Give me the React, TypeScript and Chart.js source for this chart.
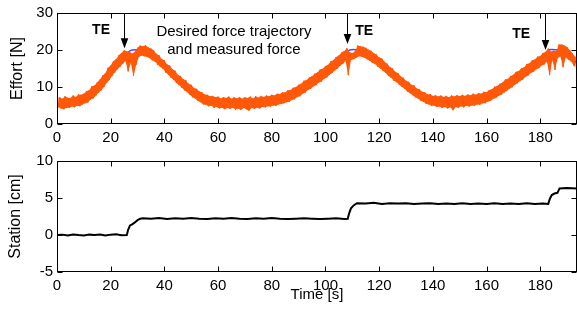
import React, { useEffect, useRef } from "react";
import { Chart, registerables } from "chart.js";

Chart.register(...registerables);

// ---------------- data ----------------
const timeMax = 193.7;
const timeTicks = [0, 20, 40, 60, 80, 100, 120, 140, 160, 180];
const effortTicks = [0, 10, 20, 30];
const stationTicks = [-5, 0, 5, 10];

// measured force, sampled every 0.5 s starting at 0 s
const measuredStart = 0;
const measuredStep = 0.5;
const measuredForce = [
  6.9, 4.5, 7.2, 4.2, 6.8, 4.0, 7.5, 4.4, 7.1, 4.3, 7.0, 4.7, 7.7, 4.5, 7.3, 4.9, 8.0, 4.8, 7.9, 5.3,
  8.2, 5.6, 8.9, 5.8, 9.1, 6.6, 10.2, 6.9, 10.4, 7.7, 11.3, 8.5, 12.0, 9.1, 13.1, 10.0, 13.7, 11.1, 15.2, 11.9,
  15.8, 13.0, 17.0, 13.9, 17.5, 14.8, 18.6, 15.5, 19.2, 16.3, 19.9, 17.0, 19.6, 14.2, 19.6, 16.5, 19.0, 13.0, 19.5, 16.0,
  20.6, 18.2, 21.2, 18.5, 21.0, 18.3, 21.3, 18.1, 20.7, 17.8, 20.4, 17.2, 19.9, 16.9, 19.0, 16.0, 18.6, 15.4, 17.6, 14.9,
  17.2, 13.9, 16.1, 13.3, 15.8, 12.5, 14.8, 11.9, 14.4, 11.1, 13.3, 10.5, 13.0, 9.8, 12.1, 9.1, 11.8, 8.6, 10.9, 7.9,
  10.6, 7.2, 9.7, 6.9, 9.5, 6.2, 8.8, 5.9, 8.6, 5.3, 8.0, 5.2, 7.9, 4.8, 7.5, 4.9, 7.6, 4.4, 7.2, 4.6,
  7.4, 4.2, 6.9, 4.4, 7.3, 4.0, 7.0, 4.3, 7.4, 4.1, 6.8, 4.4, 7.2, 3.9, 6.9, 4.2, 7.3, 3.8, 6.8, 4.3,
  7.2, 4.0, 7.0, 3.6, 7.4, 4.3, 6.9, 4.1, 7.5, 4.4, 7.1, 4.2, 7.6, 4.6, 7.3, 4.5, 7.7, 4.8, 7.5, 4.7,
  7.9, 5.0, 7.7, 4.9, 8.2, 5.3, 8.1, 5.4, 8.6, 5.6, 8.5, 5.9, 9.1, 6.0, 9.2, 6.5, 9.8, 6.7, 10.0, 7.3,
  10.6, 7.5, 10.9, 8.2, 11.7, 8.5, 11.9, 9.2, 12.6, 9.5, 12.9, 10.2, 13.6, 10.5, 13.9, 11.2, 14.7, 11.5, 14.9, 12.2,
  15.7, 12.6, 16.0, 13.3, 16.9, 13.8, 17.3, 14.5, 18.1, 15.0, 18.5, 15.8, 19.3, 16.3, 19.7, 17.0, 20.5, 13.2, 19.4, 17.3,
  19.2, 17.5, 19.6, 17.9, 21.2, 18.3, 21.0, 18.2, 20.9, 17.9, 20.6, 17.5, 20.1, 17.1, 19.8, 16.5, 19.1, 16.2, 18.8, 15.5,
  18.0, 15.0, 17.7, 14.3, 16.8, 13.8, 16.3, 13.0, 15.4, 12.5, 15.0, 11.7, 14.1, 11.3, 13.8, 10.6, 12.9, 10.0, 12.5, 9.5,
  11.7, 8.8, 11.4, 8.3, 10.6, 7.8, 10.4, 7.2, 9.6, 6.9, 9.4, 6.3, 8.7, 6.0, 8.6, 5.5, 8.0, 5.3, 8.1, 4.9,
  7.6, 4.9, 7.8, 4.6, 7.4, 4.7, 7.7, 4.3, 7.3, 4.6, 7.6, 4.2, 7.2, 4.5, 7.7, 3.7, 7.4, 4.6, 7.8, 4.4,
  7.5, 4.8, 7.9, 4.5, 7.6, 4.9, 8.0, 4.7, 7.7, 5.0, 8.2, 4.9, 7.9, 5.3, 8.4, 5.2, 8.2, 5.6, 8.7, 5.6,
  8.6, 6.1, 9.2, 6.2, 9.4, 6.8, 10.1, 7.0, 10.3, 7.6, 10.9, 7.9, 11.2, 8.5, 12.0, 8.9, 12.2, 9.5, 13.0, 9.9,
  13.3, 10.6, 14.1, 11.0, 14.3, 11.6, 15.1, 12.0, 15.3, 12.7, 16.2, 13.1, 16.4, 13.8, 17.2, 14.1, 17.4, 14.8, 18.2, 15.1,
  18.4, 15.8, 19.2, 16.1, 19.5, 16.8, 20.4, 13.2, 19.6, 17.2, 19.8, 14.6, 19.7, 17.8, 21.5, 18.3, 21.5, 15.3, 21.2, 18.0,
  20.8, 17.4, 20.0, 16.9, 19.1, 15.8, 18.2, 15.0,
];

// desired force trajectory
const desiredTime = [
  0, 5, 10, 15, 20, 25, 27, 28, 31, 33, 35, 40, 45, 50, 55, 60, 65, 70, 75, 80, 85, 90, 95, 100, 105, 108,
  109, 112, 114, 115, 120, 125, 130, 135, 140, 145, 150, 155, 160, 165, 170, 175, 180, 182, 183, 187, 188,
  190, 193.7,
];
const desiredForce = [
  5.5, 5.8, 6.9, 9.6, 14.4, 18.4, 19.7, 20, 20, 19.6, 18.8, 15.5, 12, 9, 6.7, 5.8, 5.6, 5.6, 5.8, 6.3, 7.2, 9,
  11.5, 14, 17, 19.2, 20, 20, 19.4, 19, 16.6, 13.3, 10.3, 7.8, 6.3, 6, 6.2, 6.5, 7.3, 9.3, 11.9, 14.5, 17,
  18.3, 20, 20, 19.9, 19.1, 16.3,
];

// station
const stationTime = [
  0, 2, 4, 6, 8, 10, 12, 14, 16, 18, 20, 22, 24, 26, 26.5, 27.2, 28, 29, 30, 31, 32, 35, 38, 41, 44, 47, 50,
  53, 56, 59, 62, 65, 68, 71, 74, 77, 80, 83, 86, 89, 92, 95, 98, 101, 104, 107, 108.3, 108.8, 109.5, 110.5,
  111.7, 115, 118, 121, 124, 127, 130, 133, 136, 139, 142, 145, 148, 151, 154, 157, 160, 163, 166, 169, 172,
  175, 178, 181, 183, 183.6, 184.3, 185.3, 186.4, 187.2, 190, 193.7,
];
const stationValue = [
  0, 0.05, -0.05, 0.08, 0, -0.06, 0.05, 0, 0.08, -0.05, 0.05, 0.1, -0.03, 0, 0.7, 1.3, 1.45, 1.7, 2.0, 2.2,
  2.25, 2.2, 2.3, 2.15, 2.25, 2.2, 2.3, 2.2, 2.15, 2.25, 2.2, 2.3, 2.2, 2.15, 2.25, 2.2, 2.3, 2.2, 2.15, 2.2,
  2.25, 2.2, 2.15, 2.2, 2.25, 2.15, 2.2, 2.9, 3.6, 4.0, 4.3, 4.25, 4.35, 4.2, 4.3, 4.25, 4.3, 4.2, 4.25, 4.3,
  4.2, 4.25, 4.2, 4.3, 4.2, 4.25, 4.2, 4.3, 4.2, 4.25, 4.2, 4.3, 4.2, 4.25, 4.2, 4.9, 5.4, 5.6, 5.7, 6.3,
  6.35, 6.3,
];

// annotations
const teTime = [25.0, 107.9, 181.8];
const teTip = [20.5, 21.6, 20.0];
const teLabelTime = [16.4, 114.4, 172.9];
const teLabelForce = [24.3, 24.05, 23.2];
const noteLines = ["Desired force trajectory", "and measured force"];
const noteTime = 65.9;
const noteForce = [23.65, 18.9];

// ---------------- styling ----------------
const FONT = "'Liberation Sans', Arial, Helvetica, sans-serif";
const ORANGE = "rgb(255, 88, 8)";
const BLUE = "rgb(70, 70, 255)";

const framePlugin = {
  id: "frame",
  afterDraw(chart: any) {
    const { ctx, chartArea: a, scales } = chart;
    ctx.save();
    ctx.strokeStyle = "#000";
    ctx.lineWidth = 1;
    const L = Math.round(a.left) + 0.5;
    const R = Math.round(a.right) - 0.5;
    const T = Math.round(a.top) + 0.5;
    const B = Math.round(a.bottom) - 0.5;
    ctx.strokeRect(L, T, R - L, B - T);
    ctx.beginPath();
    for (const t of scales.x.ticks) {
      const px = Math.round(scales.x.getPixelForValue(t.value)) + 0.5;
      ctx.moveTo(px, B);
      ctx.lineTo(px, B - 5);
      ctx.moveTo(px, T);
      ctx.lineTo(px, T + 5);
    }
    for (const t of scales.y.ticks) {
      const py = Math.round(scales.y.getPixelForValue(t.value)) + 0.5;
      ctx.moveTo(L, py);
      ctx.lineTo(L + 5, py);
      ctx.moveTo(R, py);
      ctx.lineTo(R - 5, py);
    }
    ctx.stroke();
    ctx.restore();
  },
};

const annotationPlugin = {
  id: "teNotes",
  afterDatasetsDraw(chart: any) {
    const { ctx, scales } = chart;
    const xs = scales.x;
    const ys = scales.y;
    ctx.save();
    ctx.fillStyle = "#000";
    ctx.strokeStyle = "#000";
    ctx.lineWidth = 1;
    teTime.forEach((t, i) => {
      const px = Math.round(xs.getPixelForValue(t)) + 0.5;
      const top = ys.getPixelForValue(30);
      const tip = ys.getPixelForValue(teTip[i]);
      ctx.beginPath();
      ctx.moveTo(px, top);
      ctx.lineTo(px, tip - 8);
      ctx.stroke();
      ctx.beginPath();
      ctx.moveTo(px, tip);
      ctx.lineTo(px - 3.8, tip - 10);
      ctx.lineTo(px + 3.8, tip - 10);
      ctx.closePath();
      ctx.fill();
      ctx.font = `bold 14px ${FONT}`;
      ctx.textAlign = "center";
      ctx.textBaseline = "alphabetic";
      ctx.fillText("TE", xs.getPixelForValue(teLabelTime[i]), ys.getPixelForValue(teLabelForce[i]));
    });
    ctx.font = `15px ${FONT}`;
    ctx.textAlign = "center";
    ctx.textBaseline = "alphabetic";
    noteLines.forEach((line, i) => {
      ctx.fillText(line, xs.getPixelForValue(noteTime), ys.getPixelForValue(noteForce[i]));
    });
    ctx.restore();
  },
};

function xScale(fitHeight: number, title?: any) {
  return {
    type: "linear",
    min: 0,
    max: timeMax,
    grid: { display: false, drawTicks: false },
    border: { display: false },
    ticks: { font: { size: 15, family: FONT }, color: "#000", padding: 5, maxRotation: 0, autoSkip: false },
    afterBuildTicks: (s: any) => {
      s.ticks = timeTicks.map((v) => ({ value: v }));
    },
    afterFit: (s: any) => {
      s.height = fitHeight;
    },
    title: title || { display: false },
  };
}

function yScale(min: number, max: number, ticks: number[], label: string, titlePad: number) {
  return {
    type: "linear",
    min,
    max,
    grid: { display: false, drawTicks: false },
    border: { display: false },
    ticks: { font: { size: 15, family: FONT }, color: "#000", padding: 4 },
    afterBuildTicks: (s: any) => {
      s.ticks = ticks.map((v) => ({ value: v }));
    },
    afterFit: (s: any) => {
      s.width = 57;
    },
    title: {
      display: true,
      text: label,
      color: "#000",
      font: { size: 16, family: FONT },
      padding: { top: titlePad, bottom: 0 },
    },
  };
}

export default function App() {
  const topRef = useRef<HTMLCanvasElement>(null);
  const botRef = useRef<HTMLCanvasElement>(null);

  useEffect(() => {
    const hiPts: { x: number; y: number }[] = [];
    const loPts: { x: number; y: number }[] = [];
    const measuredPts = measuredForce.map((v, i) => {
      const p = { x: measuredStart + i * measuredStep, y: v };
      (i % 2 === 0 ? hiPts : loPts).push(p);
      return p;
    });
    const desiredPts = desiredTime.map((t, i) => ({ x: t, y: desiredForce[i] }));
    const stationPts = stationTime.map((t, i) => ({ x: t, y: stationValue[i] }));

    const top = new Chart(topRef.current as HTMLCanvasElement, {
      type: "line",
      data: {
        datasets: [
          {
            label: "Measured force",
            data: measuredPts,
            borderColor: ORANGE,
            borderWidth: 1,
            pointRadius: 0,
            tension: 0,
          },
          {
            label: "band-hi",
            data: hiPts,
            borderColor: "rgba(0,0,0,0)",
            backgroundColor: ORANGE,
            pointRadius: 0,
            tension: 0,
            fill: "+1",
          },
          {
            label: "band-lo",
            data: loPts,
            borderColor: "rgba(0,0,0,0)",
            pointRadius: 0,
            tension: 0,
          },
          {
            label: "Desired force",
            data: desiredPts,
            borderColor: BLUE,
            borderWidth: 1.5,
            pointRadius: 0,
            tension: 0.3,
          },
        ],
      },
      options: {
        animation: false,
        responsive: false,
        layout: { padding: { top: 13, left: 0, right: 0, bottom: 0 } },
        plugins: { legend: { display: false }, tooltip: { enabled: false } },
        scales: {
          x: xScale(26) as any,
          y: yScale(0, 30, effortTicks, "Effort [N]", 8) as any,
        },
      },
      plugins: [framePlugin, annotationPlugin],
    });

    const bot = new Chart(botRef.current as HTMLCanvasElement, {
      type: "line",
      data: {
        datasets: [
          {
            label: "Station",
            data: stationPts,
            borderColor: "#000",
            borderWidth: 2,
            pointRadius: 0,
            tension: 0,
          },
        ],
      },
      options: {
        animation: false,
        responsive: false,
        layout: { padding: { top: 13, left: 0, right: 0, bottom: 0 } },
        plugins: { legend: { display: false }, tooltip: { enabled: false } },
        scales: {
          x: xScale(38, {
            display: true,
            text: "Time [s]",
            color: "#000",
            font: { size: 15, family: FONT },
            padding: { top: 0, bottom: 6 },
          }) as any,
          y: yScale(-5, 10, stationTicks, "Station [cm]", 6) as any,
        },
      },
      plugins: [framePlugin],
    });

    return () => {
      top.destroy();
      bot.destroy();
    };
  }, []);

  return (
    <div style={{ position: "absolute", left: 0, top: 0, width: 577, height: 310, background: "#fff" }}>
      <canvas ref={topRef} width={577} height={150} style={{ position: "absolute", left: 0, top: 0 }} />
      <canvas ref={botRef} width={577} height={162} style={{ position: "absolute", left: 0, top: 148 }} />
    </div>
  );
}
